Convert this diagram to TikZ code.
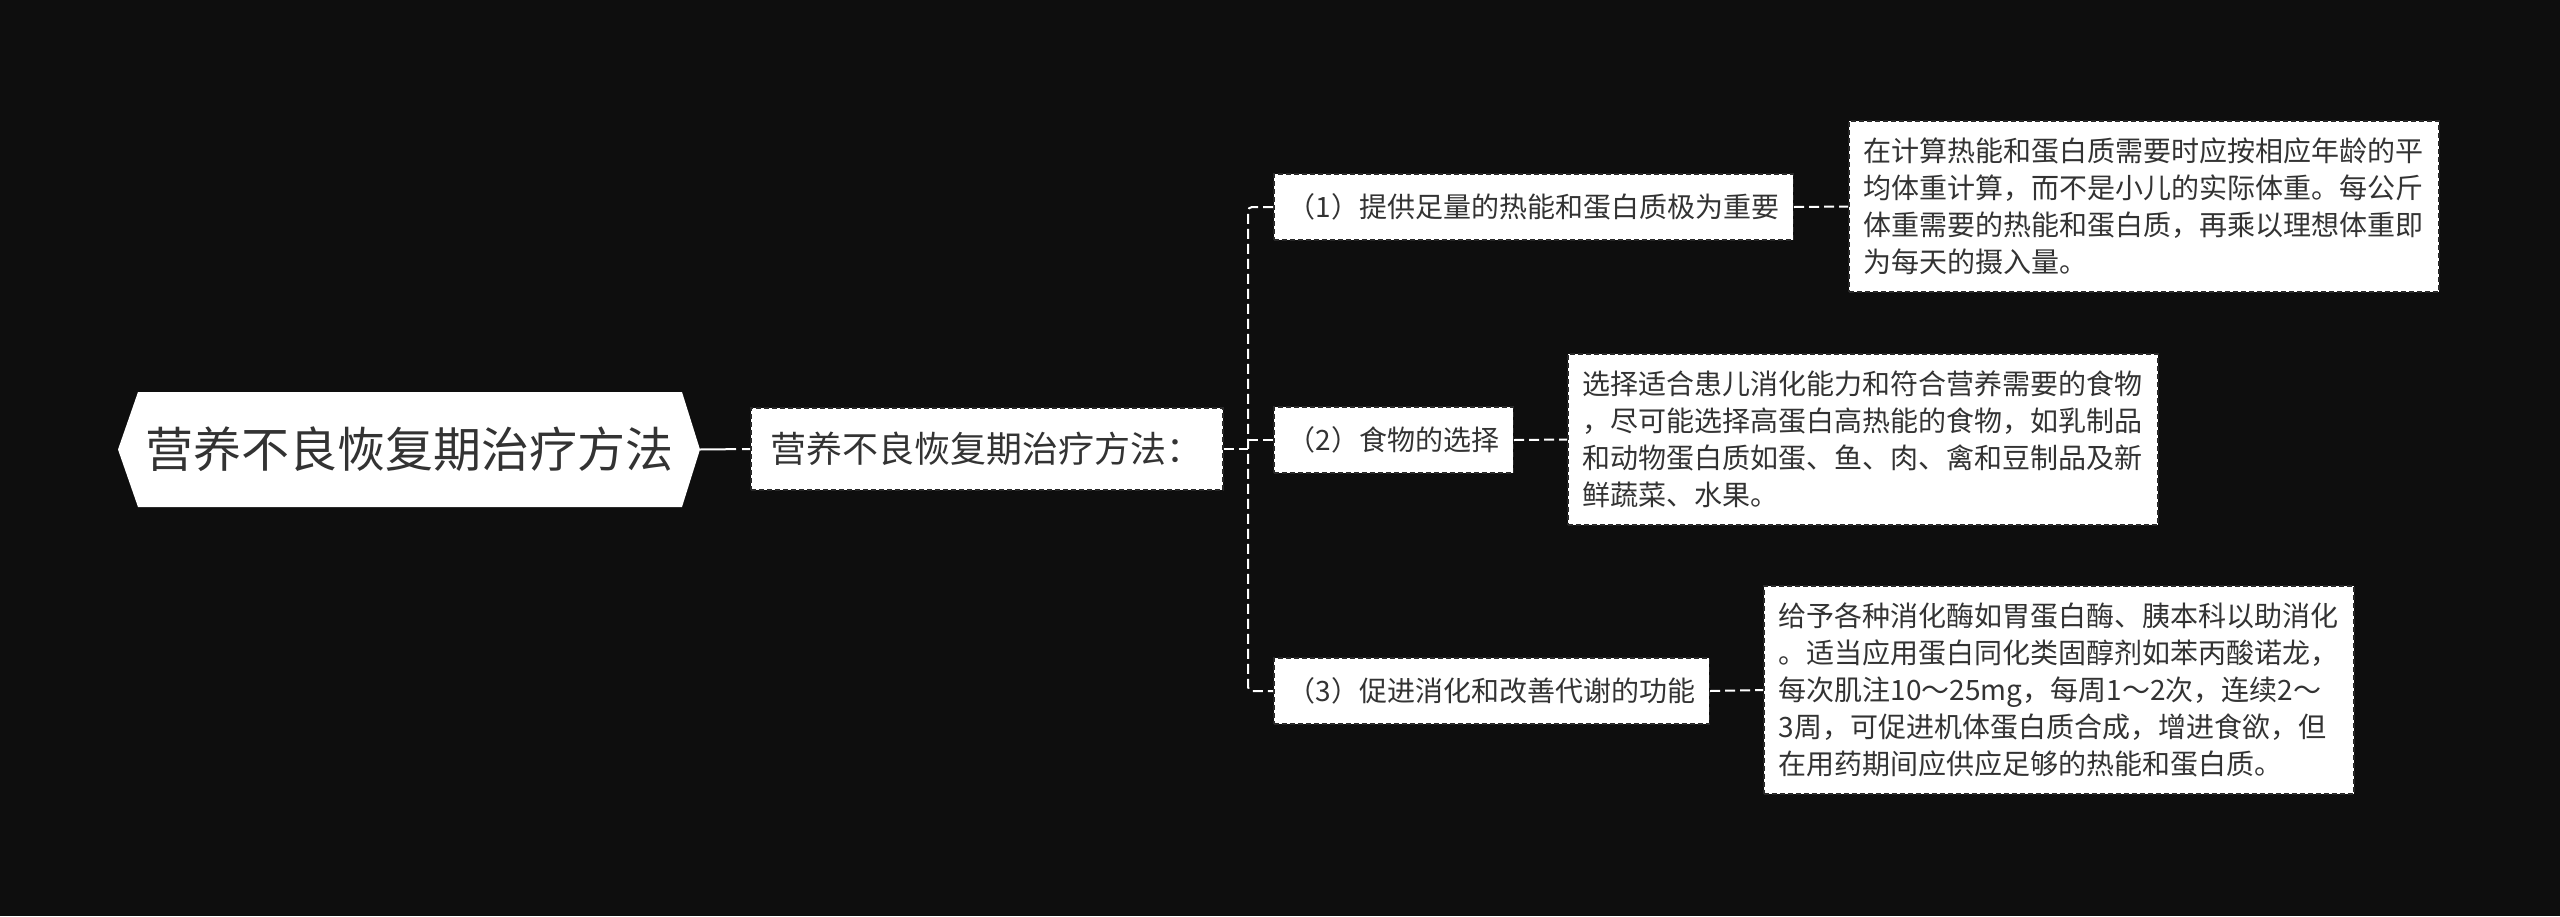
\documentclass[tikz,border=0pt]{standalone}
\usepackage{fontspec}
\setmainfont{Noto Sans CJK SC}
\usepackage{tikz}
\definecolor{canvas}{RGB}{14, 14, 14}
\definecolor{ink}{RGB}{51, 51, 51}
\definecolor{edge}{RGB}{40, 40, 40}
\usetikzlibrary{calc}

\tikzset{
  box/.style={fill=white, draw=edge, line width=1.5pt, dash pattern=on 5pt off 3pt,
    text=ink, inner xsep=14pt, minimum height=66pt, anchor=west,
    font=\fontsize{28pt}{37pt}\selectfont},
  leafbox/.style={box, align=left, inner xsep=15pt, inner ysep=17pt},
  link/.style={white, line width=2pt, dash pattern=on 10pt off 5pt}
}

\begin{document}
\begin{tikzpicture}[x=1pt, y=-1pt]
    % Canvas
    \fill[canvas] (0,0) rectangle (2560,916);
    \useasboundingbox (0,0) rectangle (2560,916);

    % Root hexagon
    \fill[white] (118,449.5) -- (138,392) -- (682,392) -- (700,449.5) -- (682,507) -- (138,507) -- cycle;
    \node[text=ink, font=\fontsize{48pt}{56pt}\selectfont] (root) at (409,449.5) {营养不良恢复期治疗方法};
    \coordinate (roottip) at (700,449.5);

    % Second level
    \node[box, minimum width=472pt, minimum height=82pt, inner xsep=20pt,
      font=\fontsize{36pt}{42pt}\selectfont] (sub) at (750,449) {营养不良恢复期治疗方法：};
    \draw[white, line width=2pt, dash pattern=on 36pt off 6pt] (roottip) -- (sub.west);

    % Three measures
    \node[box] (m1) at (1273,207) {（1）提供足量的热能和蛋白质极为重要};
    \node[box] (m2) at (1273,440) {（2）食物的选择};
    \node[box] (m3) at (1273,691) {（3）促进消化和改善代谢的功能};

    % Trunk
    \coordinate (join) at (1248,449);
    \coordinate (fork) at (1248,440);
    \draw[link, rounded corners=4pt] (m1.west) -- (m1.west -| join) -- (m3.west -| join) -- (m3.west);
    \draw[link] (sub.east) -- (join);
    \draw[link] (fork) -- (m2.west);

    % Details
    \node[leafbox] (d1) at (1848,206.5) {在计算热能和蛋白质需要时应按相应年龄的平\\均体重计算，而不是小儿的实际体重。每公斤\\体重需要的热能和蛋白质，再乘以理想体重即\\为每天的摄入量。};
    \node[leafbox] (d2) at (1567,439.5) {选择适合患儿消化能力和符合营养需要的食物\\，尽可能选择高蛋白高热能的食物，如乳制品\\和动物蛋白质如蛋、鱼、肉、禽和豆制品及新\\鲜蔬菜、水果。};
    \node[leafbox] (d3) at (1763,690) {给予各种消化酶如胃蛋白酶、胰本科以助消化\\。适当应用蛋白同化类固醇剂如苯丙酸诺龙，\\每次肌注10～25mg，每周1～2次，连续2～\\3周，可促进机体蛋白质合成，增进食欲，但\\在用药期间应供应足够的热能和蛋白质。};

    \draw[link] (m1.east) -- (d1.west);
    \draw[link] (m2.east) -- (d2.west);
    \draw[link] (m3.east) -- (d3.west);
\end{tikzpicture}
\end{document}
